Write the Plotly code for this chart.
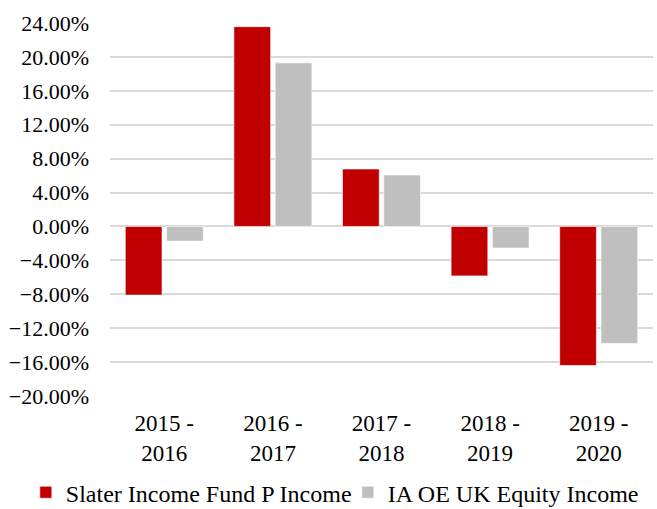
import plotly.graph_objects as go

categories = ["2015 -<br>2016", "2016 -<br>2017", "2017 -<br>2018", "2018 -<br>2019", "2019 -<br>2020"]
slater = [-0.081, 0.2357, 0.0678, -0.0583, -0.164]
ia_oe = [-0.0173, 0.193, 0.0607, -0.0255, -0.138]
series_names = ["Slater Income Fund P Income", "IA OE UK Equity Income"]

fig = go.Figure()
fig.add_trace(go.Bar(x=categories, y=slater, name=series_names[0],
                     marker=dict(color="#C00000", line=dict(color="rgba(255,255,255,0.6)", width=1))))
fig.add_trace(go.Bar(x=categories, y=ia_oe, name=series_names[1],
                     marker=dict(color="#BFBFBF", line=dict(color="rgba(255,255,255,0.6)", width=1))))

serif = "Liberation Serif"
fig.update_layout(
    width=657, height=509,
    margin=dict(l=110, r=4, t=23, b=113, autoexpand=False),
    paper_bgcolor="white", plot_bgcolor="white",
    font=dict(family=serif, size=23, color="#000000"),
    barmode="group", bargap=0.24, bargroupgap=0.11,
    showlegend=True,
    legend=dict(orientation="h", x=-0.155, xanchor="left", y=-0.259, yanchor="middle",
                font=dict(family=serif, size=24, color="#000000"),
                traceorder="normal", itemwidth=30,
                entrywidthmode="pixels", entrywidth=277),
)
fig.update_yaxes(range=[-0.20, 0.24], dtick=0.04, tick0=0, tickformat=".2%",
                 showgrid=True, gridcolor="#D9D9D9", gridwidth=1.5,
                 zeroline=True, zerolinecolor="#D9D9D9", zerolinewidth=1.5,
                 showline=False, ticks="", ticklabelstandoff=20,
                 tickfont=dict(family=serif, size=22), automargin=False)
fig.update_xaxes(showgrid=False, showline=False, ticks="", ticklabelstandoff=11,
                 automargin=False)

fig.write_html("out.html")
